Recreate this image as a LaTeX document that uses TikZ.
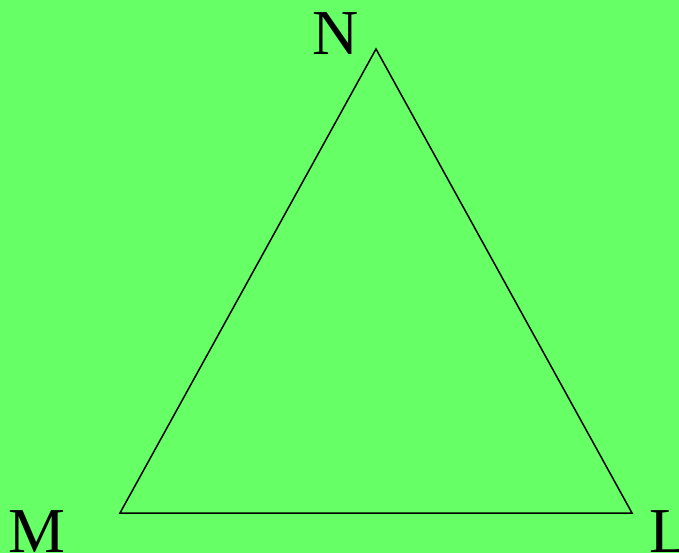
\documentclass[tikz,border=0pt]{standalone}
\usepackage{fontspec}
\setmainfont{Liberation Serif}
\definecolor{bggreen}{RGB}{102,255,102}
\begin{document}
\begin{tikzpicture}[x=1pt,y=-1pt,
  lbl/.style={inner sep=0pt,outer sep=0pt,anchor=base west,font=\fontsize{64}{64}\selectfont},
  edge/.style={draw=black,line width=1.5pt,line join=miter}]
\fill[bggreen] (0,0) rectangle (679,553);
\useasboundingbox (0,0) rectangle (679,553);
\coordinate (n) at (376,49);
\coordinate (m) at (120,513);
\coordinate (l) at (632,513);
\draw[edge] (n) -- (l) -- (m) -- cycle;
\node[lbl] (tn) at (312,55) {N};
\node[lbl] (tm) at (9,552) {M};
\node[lbl] (tl) at (649,552) {L};
\end{tikzpicture}
\end{document}
